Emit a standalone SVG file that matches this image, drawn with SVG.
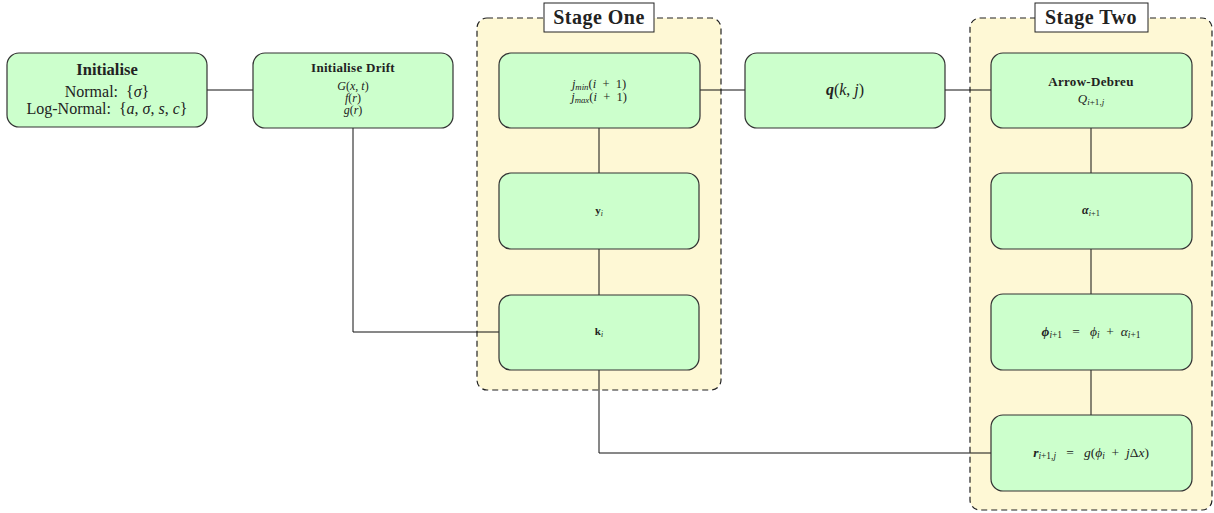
<svg xmlns="http://www.w3.org/2000/svg" width="1214" height="513" viewBox="0 0 1214 513">
  <style>
    .stage { fill: #fef8d5; stroke: #222; stroke-width: 1.2; stroke-dasharray: 6 4; }
    .stage-label { fill: #fff; stroke: #222; stroke-width: 1; }
    .node { fill: #ccffcc; stroke: #333; stroke-width: 1.2; }
    .wire { fill: none; stroke: #111; stroke-width: 1; }
    text { font-family: "Liberation Serif", "DejaVu Serif", serif; fill: #222; text-anchor: middle; }
    .b { font-weight: bold; }
    .i { font-style: italic; }
    .sub { font-size: 70%; }
  </style>

  <!-- stage containers -->
  <g id="stage-one">
    <rect class="stage" x="477" y="18" width="244" height="372" rx="10"/>
    <rect class="stage-label" x="544" y="3" width="110" height="29"/>
    <text x="599" y="24" class="b" font-size="20" letter-spacing="0.5">Stage One</text>
  </g>
  <g id="stage-two">
    <rect class="stage" x="970" y="18" width="242" height="492" rx="10"/>
    <rect class="stage-label" x="1035" y="3" width="113" height="29"/>
    <text x="1091" y="24" class="b" font-size="20" letter-spacing="0.5">Stage Two</text>
  </g>

  <!-- connectors -->
  <g id="connectors">
    <path class="wire" d="M207 90 H253"/>
    <path class="wire" d="M353 128 V332 H499"/>
    <path class="wire" d="M700 90 H745"/>
    <path class="wire" d="M945 90 H991"/>
    <path class="wire" d="M599 128 V173"/>
    <path class="wire" d="M599 249 V295"/>
    <path class="wire" d="M599 370 V453 H991"/>
    <path class="wire" d="M1091 128 V173"/>
    <path class="wire" d="M1091 249 V294"/>
    <path class="wire" d="M1091 370 V415"/>
  </g>

  <g id="initialise">
    <rect class="node" x="7" y="53" width="200" height="74" rx="12"/>
    <text x="107" y="75" class="b" font-size="16.5">Initialise</text>
    <text x="107" y="97" font-size="16">Normal:&#160; {<tspan class="i">σ</tspan>}</text>
    <text x="107" y="114" font-size="16">Log-Normal:&#160; {<tspan class="i">a</tspan>, <tspan class="i">σ</tspan>, <tspan class="i">s</tspan>, <tspan class="i">c</tspan>}</text>
  </g>

  <g id="initialise-drift">
    <rect class="node" x="253" y="53" width="200" height="75" rx="12"/>
    <text x="353" y="72" class="b" font-size="13" letter-spacing="0.3">Initialise Drift</text>
    <text x="353" y="90" font-size="12"><tspan class="i">G</tspan>(<tspan class="i">x</tspan>, <tspan class="i">t</tspan>)</text>
    <text x="353" y="102" font-size="12"><tspan class="i">f</tspan>(<tspan class="i">r</tspan>)</text>
    <text x="353" y="114" font-size="12"><tspan class="i">g</tspan>(<tspan class="i">r</tspan>)</text>
  </g>

  <g id="j-bounds">
    <rect class="node" x="499" y="53" width="201" height="75" rx="12"/>
    <text x="599" y="88" font-size="12.5"><tspan class="i">j</tspan><tspan class="i sub" dy="2">min</tspan><tspan dy="-2">(</tspan><tspan class="i">i</tspan>&#160; +&#160; 1)</text>
    <text x="599" y="101" font-size="12.5"><tspan class="i">j</tspan><tspan class="i sub" dy="2">max</tspan><tspan dy="-2">(</tspan><tspan class="i">i</tspan>&#160; +&#160; 1)</text>
  </g>

  <g id="y-i">
    <rect class="node" x="499" y="173" width="200" height="76" rx="12"/>
    <text x="599" y="214" font-size="11"><tspan class="b">y</tspan><tspan class="i sub" dy="2">i</tspan></text>
  </g>

  <g id="k-i">
    <rect class="node" x="499" y="295" width="200" height="75" rx="12"/>
    <text x="599" y="335" font-size="11"><tspan class="b">k</tspan><tspan class="i sub" dy="2">i</tspan></text>
  </g>

  <g id="q-kj">
    <rect class="node" x="745" y="53" width="200" height="75" rx="12"/>
    <text x="845" y="95" font-size="16"><tspan class="b i">q</tspan>(<tspan class="i">k</tspan>, <tspan class="i">j</tspan>)</text>
  </g>

  <g id="arrow-debreu">
    <rect class="node" x="991" y="53" width="201" height="75" rx="12"/>
    <text x="1091" y="86" class="b" font-size="13" letter-spacing="0.3">Arrow-Debreu</text>
    <text x="1091" y="103" font-size="13"><tspan class="i">Q</tspan><tspan class="i sub" dy="2">i</tspan><tspan class="sub">+1,</tspan><tspan class="i sub">j</tspan></text>
  </g>

  <g id="alpha">
    <rect class="node" x="991" y="173" width="201" height="76" rx="12"/>
    <text x="1091" y="214" font-size="12"><tspan class="b i">α</tspan><tspan class="sub" dy="2"><tspan class="i">i</tspan>+1</tspan></text>
  </g>

  <g id="phi">
    <rect class="node" x="991" y="294" width="201" height="76" rx="12"/>
    <text x="1091" y="336" font-size="13.5"><tspan class="b i">ϕ</tspan><tspan class="sub" dy="2"><tspan class="i">i</tspan>+1</tspan><tspan dy="-2">&#160;&#160; = &#160;&#160;</tspan><tspan class="i">ϕ</tspan><tspan class="i sub" dy="2">i</tspan><tspan dy="-2">&#160; + &#160;</tspan><tspan class="i">α</tspan><tspan class="sub" dy="2"><tspan class="i">i</tspan>+1</tspan></text>
  </g>

  <g id="rate">
    <rect class="node" x="991" y="415" width="201" height="76" rx="12"/>
    <text x="1091" y="457" font-size="13.5"><tspan class="b i">r</tspan><tspan class="sub" dy="2"><tspan class="i">i</tspan>+1,<tspan class="i">j</tspan></tspan><tspan dy="-2">&#160;&#160; = &#160;&#160;</tspan><tspan class="i">g</tspan>(<tspan class="i">ϕ</tspan><tspan class="i sub" dy="2">i</tspan><tspan dy="-2">&#160; + &#160;</tspan><tspan class="i">j</tspan>Δ<tspan class="i">x</tspan>)</text>
  </g>
</svg>
